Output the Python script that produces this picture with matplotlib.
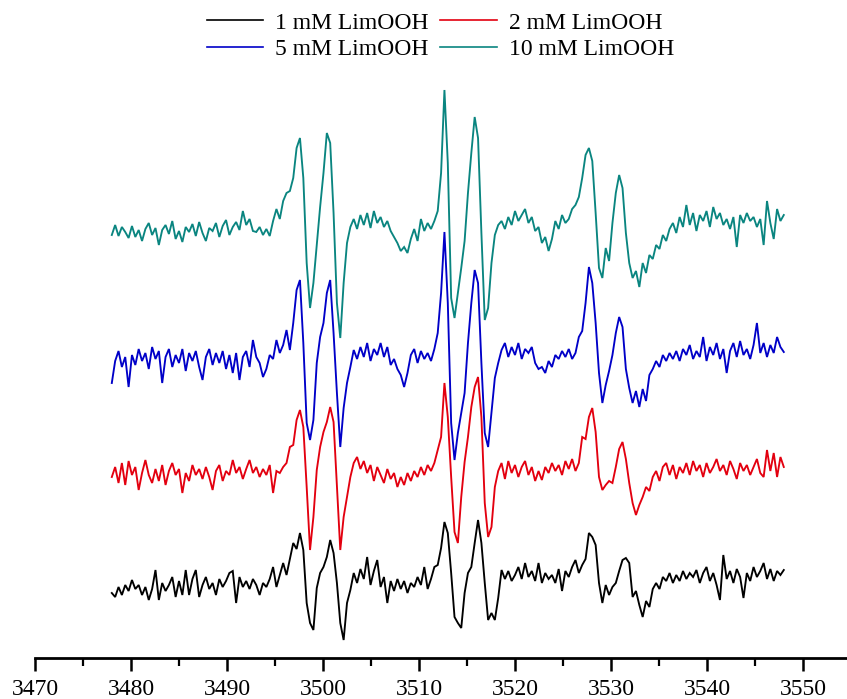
import numpy as np
import matplotlib
matplotlib.use("Agg")
import matplotlib.pyplot as plt
from matplotlib.ticker import MultipleLocator

# ---- data (EPR spectra, arbitrary intensity units) ----
field_start = 3478.0   # G
field_step = 0.35      # G

labels = ["1 mM LimOOH", "2 mM LimOOH", "5 mM LimOOH", "10 mM LimOOH"]
colors = ["#000000", "#e3000f", "#0000c8", "#0a8580"]

lim_1mM = [
    0, -4, 6, -2, 8, 2, 13, 4, 8, -2,
    6, -7, 4, 23, -7, 10, 2, 8, 16, -4,
    12, -2, 23, -2, 14, 23, -4, 8, 16, 4,
    10, -2, 14, 6, 12, 20, 22, -10, 16, 6,
    12, 4, 14, 8, -2, 10, 6, 14, 26, 6,
    18, 30, 18, 34, 50, 44, 60, 43, -10, -30,
    -37, 5, 20, 26, 36, 53, 40, 10, -30, -47,
    -10, 3, 20, 10, 24, 14, 36, 8, 22, 33,
    6, 16, -10, 12, 2, 14, 4, 12, 0, 10,
    6, 16, 8, 26, 4, 14, 26, 28, 45, 71,
    60, 20, -24, -30, -35, 0, 20, 26, 50, 73,
    50, 10, -27, -20, -27, -5, 23, 14, 22, 12,
    18, 26, 14, 30, 16, 22, 12, 30, 10, 20,
    14, 18, 10, 24, 2, 22, 16, 26, 33, 20,
    28, 34, 60, 56, 48, 10, -10, 8, -2, 6,
    10, 22, 33, 35, 30, -4, 2, -12, -24, -8,
    -14, 4, 10, 4, 16, 12, 20, 10, 18, 12,
    22, 14, 20, 16, 23, 10, 20, 26, 12, 20,
    8, -7, 38, 14, 22, 10, 24, 16, -5, 20,
    12, 26, 16, 22, 30, 14, 24, 12, 22, 18,
    23,
]

lim_2mM = [
    0, 10, -6, 14, -8, 16, 2, 10, -13, 4,
    17, 2, -6, 8, -4, 12, -8, 6, 14, 2,
    8, -16, 4, -4, 12, 2, 8, -2, 10, 0,
    -13, 6, 12, -4, 6, 2, 17, 4, 10, -2,
    8, 17, 4, 10, 0, 8, 2, 12, -16, 6,
    4, 10, 14, 30, 32, 57, 67, 50, -10, -73,
    -40, 7, 30, 45, 55, 70, 55, -10, -73, -40,
    -20, 0, 14, 20, 8, 16, 4, 12, -4, 10,
    2, -6, 8, -2, 4, -10, 0, -8, 4, -4,
    6, 0, 10, 2, 12, 6, 14, 27, 40, 94,
    60, 0, -55, -66, -20, 15, 40, 70, 90, 100,
    60, -26, -60, -50, -10, 6, 14, -2, 16, 4,
    12, 0, 10, 16, 2, 10, -4, 6, -3, 10,
    4, 14, 6, 12, 2, 16, 8, 18, 6, 14,
    40, 38, 60, 69, 45, 0, -13, -8, -4, -6,
    10, 28, 35, 18, -6, -26, -38, -28, -20, -10,
    -14, 0, 6, -4, 10, 14, 2, 12, -2, 10,
    4, 14, 2, 16, 6, 12, 0, 14, 4, 10,
    18, 6, 12, 2, 16, 8, -2, 14, 6, 12,
    2, 10, 18, 4, 0, 27, 6, 24, 0, 20,
    10,
]

lim_5mM = [
    -20, 2, 12, -4, 6, -24, 8, -2, 14, 2,
    10, -6, 16, 4, 12, -20, 6, 14, -4, 8,
    0, 14, -8, 10, 2, 12, -4, -17, 6, 14,
    -2, 10, 0, 12, -6, 8, -10, 10, -17, 6,
    12, -4, 23, 6, 0, -14, -6, 8, 4, 23,
    10, 18, 33, 13, 40, 73, 83, 20, -60, -77,
    -57, 0, 26, 40, 70, 83, 30, -30, -84, -45,
    -20, -4, 13, 4, 16, 6, 20, 2, 14, 8,
    20, 6, 16, -2, 4, -6, -12, -24, -10, 8,
    14, 0, 12, 4, 10, 2, 14, 30, 70, 131,
    60, -60, -97, -70, -50, -30, 20, 60, 93, 80,
    0, -70, -84, -50, -15, 0, 13, 20, 6, 16,
    8, 20, 4, 14, 10, 16, 0, -6, -4, -10,
    2, -4, 8, 4, 12, 6, 14, 4, 10, 26,
    32, 60, 96, 80, 40, -10, -40, -22, -8, 8,
    30, 46, 36, -6, -25, -40, -28, -44, -26, -38,
    -12, -6, 2, -4, 8, 2, 10, 4, 12, 2,
    14, 8, 18, 4, 12, 6, 26, 2, 16, 8,
    20, 4, 14, -10, 12, 20, 6, 22, 8, 14,
    4, 18, 40, 10, 20, 6, 18, 10, 26, 16,
    11,
]

lim_10mM = [
    -2, 8, -3, 6, 1, -5, 7, -4, 3, -8,
    4, 10, -2, 5, -12, 3, 8, -1, 12, -6,
    2, -9, 6, 1, 9, -3, 11, 0, -8, 5,
    2, 10, -4, 7, 13, -2, 6, 11, 3, 22,
    8, 14, 2, 1, 6, -2, 4, -3, 12, 24,
    14, 32, 40, 42, 55, 85, 95, 55, -30, -75,
    -50, -12, 26, 60, 100, 90, 20, -70, -105, -50,
    -10, 6, 14, 4, 18, 8, 20, 5, 22, 10,
    16, 6, 12, 2, -4, -10, -18, -14, -20, -6,
    4, -8, 14, 2, 10, 4, 12, 22, 60, 143,
    70, -65, -85, -60, -35, -8, 40, 80, 116, 95,
    0, -87, -75, -30, -2, 8, 12, 4, 16, 8,
    22, 12, 18, 24, 10, 16, 2, 6, -10, -4,
    -18, -6, 12, 4, 18, 10, 14, 24, 28, 36,
    55, 78, 85, 72, 20, -35, -45, -15, -28, 10,
    40, 58, 45, 0, -30, -45, -38, -54, -30, -40,
    -22, -26, -12, -16, -2, -8, 4, 10, 0, 16,
    6, 28, 8, 20, 2, 18, 12, 22, 6, 26,
    14, 20, 8, 14, 4, 16, -14, 18, 10, 20,
    12, 16, 6, 14, -12, 32, 10, -6, 24, 12,
    18,
]

series = [lim_1mM, lim_2mM, lim_5mM, lim_10mM]

# ---- layout / style (not data) ----
offsets = [65, 181, 295, 425]
W, H = 847, 699
fig = plt.figure(figsize=(W / 100, H / 100), dpi=100)
ax = fig.add_axes([35 / W, (H - 658) / H, 1 - 35 / W, (658 - 80) / H])

lines = []
for vals, off, col, lab in zip(series, offsets, colors, labels):
    v = np.asarray(vals, dtype=float)
    x = field_start + field_step * np.arange(len(v))
    ln, = ax.plot(x, v + off, color=col, lw=1.35, label=lab,
                  solid_joinstyle="miter")
    lines.append(ln)

ax.set_xlim(3470, 3470 + (W - 35) / 9.6)
ax.set_ylim(0, 578)
for s in ["left", "right", "top"]:
    ax.spines[s].set_visible(False)
ax.spines["bottom"].set_linewidth(2.0)
ax.set_yticks([])
ax.xaxis.set_major_locator(MultipleLocator(10))
ax.xaxis.set_minor_locator(MultipleLocator(5))
ax.tick_params(axis="x", which="major", direction="out", length=9, width=1.8,
               pad=6, labelsize=17)
ax.tick_params(axis="x", which="minor", direction="out", length=5.5, width=1.6)
for t in ax.get_xticklabels():
    t.set_fontfamily("Liberation Serif")

order = [0, 2, 1, 3]
leg = fig.legend([lines[i] for i in order], [labels[i] for i in order],
                 loc="upper center", bbox_to_anchor=(0.52, 1.013), ncol=2,
                 frameon=False, handlelength=2.4, handletextpad=0.5,
                 columnspacing=0.5, labelspacing=0.2,
                 prop={"family": "Liberation Serif", "size": 17})
for h in leg.legend_handles:
    h.set_linewidth(1.2)

fig.savefig("out.png", dpi=100)
